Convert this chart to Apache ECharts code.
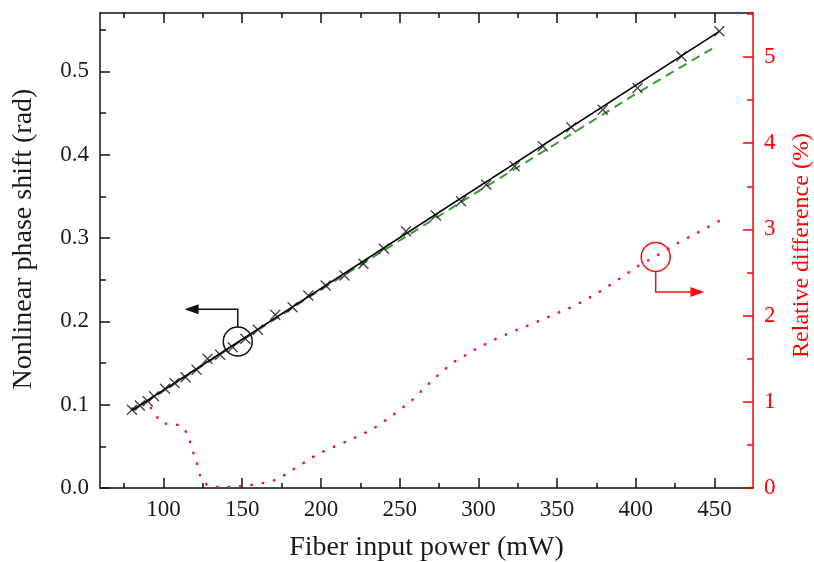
<!DOCTYPE html>
<html><head><meta charset="utf-8">
<script src="https://cdn.jsdelivr.net/npm/echarts@6/dist/echarts.min.js"></script>
<style>html,body{margin:0;padding:0;background:#fff}#c{width:814px;height:562px}</style>
</head><body><div id="c"></div>
<script>
// ---- data ----
const xMajor = [100, 150, 200, 250, 300, 350, 400, 450];
const xMinor = [75, 125, 175, 225, 275, 325, 375, 425];
const yLeftMajor = [0, 0.1, 0.2, 0.3, 0.4, 0.5];
const yLeftMinor = [0.05, 0.15, 0.25, 0.35, 0.45, 0.55];
const yRightMajor = [0, 1, 2, 3, 4, 5];
const yRightMinor = [0.5, 1.5, 2.5, 3.5, 4.5, 5.5];

const measuredPower = [80, 85, 90, 94, 101, 107, 114, 121, 128, 136, 144, 152, 160, 171, 182, 192, 203, 215, 227, 240, 254, 273, 289, 305, 323, 341, 359, 379, 401, 429, 453];
const measuredPhase = [0.094, 0.099, 0.104, 0.110, 0.119, 0.126, 0.133, 0.142, 0.155, 0.160, 0.169, 0.179, 0.190, 0.208, 0.217, 0.231, 0.243, 0.255, 0.269, 0.287, 0.308, 0.327, 0.344, 0.364, 0.386, 0.410, 0.433, 0.454, 0.480, 0.518, 0.548];

const fitPower = [80, 453];
const fitPhase = [0.093, 0.548];

const simPower = [80, 100, 150, 200, 250, 300, 350, 400, 450];
const simPhase = [0.093, 0.1165, 0.1775, 0.238, 0.297, 0.356, 0.414, 0.473, 0.529];

const diffPower = [80, 85, 90, 94, 99, 105, 111, 115.7, 117.6, 119.7, 121.8, 123.5, 127.8, 134.5, 141, 148, 154, 160.5, 167, 173.7, 180, 186.6, 193, 200, 206, 212.4, 218.8, 232.6, 245.3, 258, 270.7, 283.4, 297.2, 310, 322.6, 336.3, 349, 361.7, 375.5, 388.2, 401, 413.6, 427.4, 440, 454];
const diffPercent = [0.92, 0.97, 0.99, 0.87, 0.75, 0.74, 0.73, 0.62, 0.49, 0.37, 0.26, 0.13, 0.03, 0.01, 0.01, 0.02, 0.03, 0.05, 0.07, 0.11, 0.19, 0.26, 0.34, 0.41, 0.46, 0.51, 0.56, 0.68, 0.84, 1.02, 1.25, 1.45, 1.60, 1.72, 1.82, 1.92, 2.02, 2.12, 2.26, 2.41, 2.57, 2.70, 2.85, 2.97, 3.11];

// annotation anchors (data coordinates)
const blackMarker = [147.2, 0.1758];
const blackElbowY = 0.2145;
const blackArrowX = 113.4;
const redMarker = [412.6, 2.68];
const redElbowY = 2.275;
const redArrowX = 443.5;

const X_MIN = 59.7, X_MAX = 474.4;
const YL_MAX = 0.57, YR_MAX = 5.51;

// ---- chart ----
const FONT = 'Liberation Serif';
const chart = echarts.init(document.getElementById('c'), null, {renderer: 'canvas'});
const zip = (a, b) => a.map((v, i) => [v, b[i]]);

function xAx(pos, values, len, showLine, showLabel, extra) {
  return Object.assign({
    type: 'value', position: pos, min: X_MIN, max: X_MAX,
    axisLine: {show: showLine, onZero: false, lineStyle: {color: '#111', width: 1.5}},
    axisTick: {show: true, inside: true, length: len, customValues: values, lineStyle: {color: '#111', width: 1.5}},
    axisLabel: {show: showLabel, customValues: values, fontFamily: FONT, fontSize: 23, color: '#1a1a1a', margin: 10},
    splitLine: {show: false}
  }, extra || {});
}
function yAx(pos, max, values, len, color, showLine, showLabel, fmt, extra) {
  return Object.assign({
    type: 'value', position: pos, min: 0, max: max,
    axisLine: {show: showLine, onZero: false, lineStyle: {color: color, width: 1.5}},
    axisTick: {show: true, inside: true, length: len, customValues: values, lineStyle: {color: color, width: 1.5}},
    axisLabel: {show: showLabel, customValues: values, fontFamily: FONT, fontSize: 23, color: color === '#111' ? '#1a1a1a' : color, margin: 11, formatter: fmt},
    splitLine: {show: false}
  }, extra || {});
}

const option = {
  animation: false,
  backgroundColor: '#fff',
  grid: {left: 100, right: 61, top: 13, bottom: 74, containLabel: false, outerBoundsMode: 'none'},
  xAxis: [
    xAx('bottom', xMajor, 10, true, true, {
      name: 'Fiber input power (mW)', nameLocation: 'middle', nameGap: 46,
      nameTextStyle: {fontFamily: FONT, fontSize: 28, color: '#1a1a1a'}
    }),
    xAx('top', xMajor, 10, true, false),
    xAx('bottom', xMinor, 5, false, false),
    xAx('top', xMinor, 5, false, false)
  ],
  yAxis: [
    yAx('left', YL_MAX, yLeftMajor, 10, '#111', true, true, v => v.toFixed(1), {
      name: 'Nonlinear phase shift (rad)', nameLocation: 'middle', nameGap: 62,
      nameTextStyle: {fontFamily: FONT, fontSize: 28, color: '#1a1a1a', padding: [0, 0, 0, 23]}
    }),
    yAx('right', YR_MAX, yRightMajor, 10, '#ff0000', true, true, v => String(v), {
      name: 'Relative difference (%)', nameLocation: 'middle', nameGap: 37,
      nameTextStyle: {fontFamily: FONT, fontSize: 24, color: '#ff0000', padding: [0, 0, 0, 10]}
    }),
    yAx('left', YL_MAX, yLeftMinor, 6, '#111', false, false),
    yAx('right', YR_MAX, yRightMinor, 6, '#ff0000', false, false)
  ],
  series: [
    {
      type: 'line', name: 'fit', data: zip(fitPower, fitPhase), xAxisIndex: 0, yAxisIndex: 0,
      showSymbol: false, lineStyle: {color: '#000', width: 1.6}, z: 4
    },
    {
      type: 'line', name: 'sim', data: zip(simPower, simPhase), xAxisIndex: 0, yAxisIndex: 0,
      showSymbol: false, smooth: false, lineStyle: {color: '#3a9a3a', width: 2, type: [9, 6]}, z: 2
    },
    {
      type: 'scatter', name: 'measured', data: zip(measuredPower, measuredPhase), xAxisIndex: 0, yAxisIndex: 0,
      symbol: 'path://M0,0L10,10M0,10L10,0', symbolSize: 10,
      itemStyle: {color: 'rgba(0,0,0,0)', borderColor: '#111', borderWidth: 1.3}, z: 5
    },
    {
      type: 'line', name: 'diff', data: zip(diffPower, diffPercent), xAxisIndex: 0, yAxisIndex: 1,
      showSymbol: false, lineStyle: {color: '#ee1133', width: 2.5, type: [0.5, 11], cap: 'round'}, z: 2
    }
  ]
};
chart.setOption(option);

// annotations
const R = 14.5;
const bc = chart.convertToPixel({seriesIndex: 0}, blackMarker);
const be = chart.convertToPixel({seriesIndex: 0}, [blackMarker[0], blackElbowY]);
const bt = chart.convertToPixel({seriesIndex: 0}, [blackArrowX, blackElbowY]);
const rc = chart.convertToPixel({seriesIndex: 3}, redMarker);
const re = chart.convertToPixel({seriesIndex: 3}, [redMarker[0], redElbowY]);
const rt = chart.convertToPixel({seriesIndex: 3}, [redArrowX, redElbowY]);

chart.setOption({
  graphic: [
    {type: 'circle', shape: {cx: bc[0], cy: bc[1], r: R}, style: {fill: 'none', stroke: '#111', lineWidth: 1.5}, z: 10},
    {type: 'polyline', shape: {points: [[bc[0], bc[1] - R], [be[0], be[1]], [bt[0] + 12, bt[1]]]}, style: {fill: 'none', stroke: '#111', lineWidth: 1.5}, z: 10},
    {type: 'polygon', shape: {points: [[bt[0], bt[1]], [bt[0] + 14, bt[1] - 5], [bt[0] + 14, bt[1] + 5]]}, style: {fill: '#111'}, z: 10},
    {type: 'circle', shape: {cx: rc[0], cy: rc[1], r: R}, style: {fill: 'none', stroke: '#ee1111', lineWidth: 1.5}, z: 10},
    {type: 'polyline', shape: {points: [[rc[0], rc[1] + R], [re[0], re[1]], [rt[0] - 12, rt[1]]]}, style: {fill: 'none', stroke: '#ee1111', lineWidth: 1.5}, z: 10},
    {type: 'polygon', shape: {points: [[rt[0], rt[1]], [rt[0] - 14, rt[1] - 5], [rt[0] - 14, rt[1] + 5]]}, style: {fill: '#ee1111'}, z: 10}
  ]
});
</script></body></html>
